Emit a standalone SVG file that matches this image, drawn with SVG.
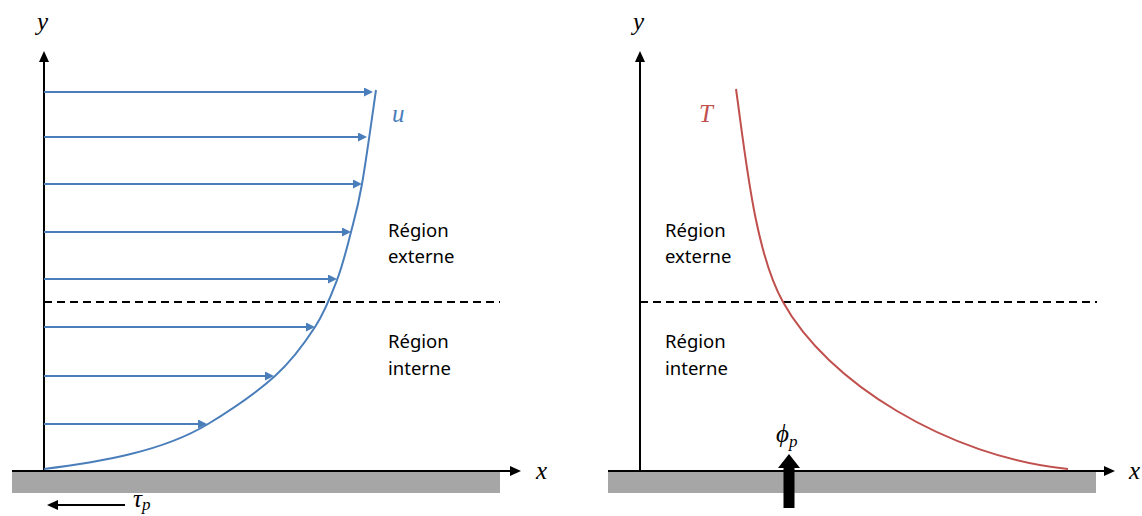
<svg xmlns="http://www.w3.org/2000/svg" width="1142" height="516" viewBox="0 0 1142 516">
<defs>
<style>
.ax{stroke:#000;stroke-width:2;fill:none}
.vel{stroke:#4a7ebb;stroke-width:2;fill:none}
.dash{stroke:#000;stroke-width:2;stroke-dasharray:8,5;fill:none}
.lbl{font-family:"Noto Sans","Liberation Sans",sans-serif;font-size:18.5px;fill:#000}
.math{font-family:"Liberation Serif","DejaVu Serif",serif;font-style:italic;font-size:25px;fill:#000}
.sub{font-family:"Liberation Serif","DejaVu Serif",serif;font-style:italic;font-size:17px;fill:#000}
.wall{fill:#a6a6a6}
</style>
<marker id="ah" markerUnits="userSpaceOnUse" markerWidth="12" markerHeight="10" refX="2" refY="5" orient="auto">
<path d="M0,0 L11,5 L0,10 z" fill="#000"/>
</marker>
<marker id="bh" markerUnits="userSpaceOnUse" markerWidth="9" markerHeight="9" refX="2" refY="4.5" orient="auto">
<path d="M0,0 L9,4.5 L0,9 z" fill="#4a7ebb"/>
</marker>
</defs>

<g id="left-panel">
<rect class="wall" x="12" y="472" width="488" height="21"/>
<g id="left-axes">
<line class="ax" x1="44" y1="470" x2="44" y2="60" marker-end="url(#ah)"/>
<line class="ax" x1="12" y1="471" x2="512" y2="471" marker-end="url(#ah)"/>
<line class="dash" x1="44" y1="302" x2="500" y2="302"/>
<line class="ax" x1="125" y1="505" x2="56" y2="505" marker-end="url(#ah)"/>
</g>
<g id="velocity-arrows">
<line class="vel" x1="44" y1="92" x2="366" y2="92" marker-end="url(#bh)"/>
<line class="vel" x1="44" y1="137" x2="360" y2="137" marker-end="url(#bh)"/>
<line class="vel" x1="44" y1="184" x2="355" y2="184" marker-end="url(#bh)"/>
<line class="vel" x1="44" y1="232" x2="344" y2="232" marker-end="url(#bh)"/>
<line class="vel" x1="44" y1="279" x2="330" y2="279" marker-end="url(#bh)"/>
<line class="vel" x1="44" y1="327" x2="308" y2="327" marker-end="url(#bh)"/>
<line class="vel" x1="44" y1="376" x2="267" y2="376" marker-end="url(#bh)"/>
<line class="vel" x1="44" y1="424" x2="200" y2="424" marker-end="url(#bh)"/>
</g>
<path id="u-profile" class="vel" d="M44,469 C99,462.4 163,451.4 208,424 C227.2,412.3 257.2,392.2 275,376 C292.8,359.8 304.7,343 315,327 C325.3,311 331,295.8 337,280 C343,264.2 346.8,248 351,232 C355.2,216 357.8,207.7 362,184 C366.2,160.3 373.7,105.7 376,90"/>
<g id="left-labels">
<text class="math" x="37" y="30">y</text>
<text class="math" x="536" y="479">x</text>
<text class="math" x="392" y="122" style="fill:#4a7ebb">u</text>
<text class="math" x="133" y="507">τ<tspan class="sub" dy="3">p</tspan></text>
<text class="lbl" x="388" y="237">Région</text>
<text class="lbl" x="388" y="263">externe</text>
<text class="lbl" x="388" y="348">Région</text>
<text class="lbl" x="388" y="375">interne</text>
</g>
</g>

<g id="right-panel">
<rect class="wall" x="608" y="472" width="488" height="21"/>
<g id="right-axes">
<line class="ax" x1="640" y1="470" x2="640" y2="60" marker-end="url(#ah)"/>
<line class="ax" x1="608" y1="471" x2="1106" y2="471" marker-end="url(#ah)"/>
<line class="dash" x1="640" y1="302" x2="1097" y2="302"/>
</g>
<path id="T-profile" d="M736,89 C746,160 755,252 783,302 C827,382 948,457 1068,469" fill="none" stroke="#c0504d" stroke-width="2"/>
<polygon id="phi-arrow" points="783.5,508 794.5,508 794.5,468 800,468 789,454 778,468 783.5,468" fill="#000"/>
<g id="right-labels">
<text class="math" x="633" y="30">y</text>
<text class="math" x="1129" y="479">x</text>
<text class="math" x="699" y="122" style="fill:#c0504d">T</text>
<text class="math" x="776" y="442">ϕ<tspan class="sub" dy="5">p</tspan></text>
<text class="lbl" x="665" y="237">Région</text>
<text class="lbl" x="665" y="263">externe</text>
<text class="lbl" x="665" y="348">Région</text>
<text class="lbl" x="665" y="375">interne</text>
</g>
</g>
</svg>
